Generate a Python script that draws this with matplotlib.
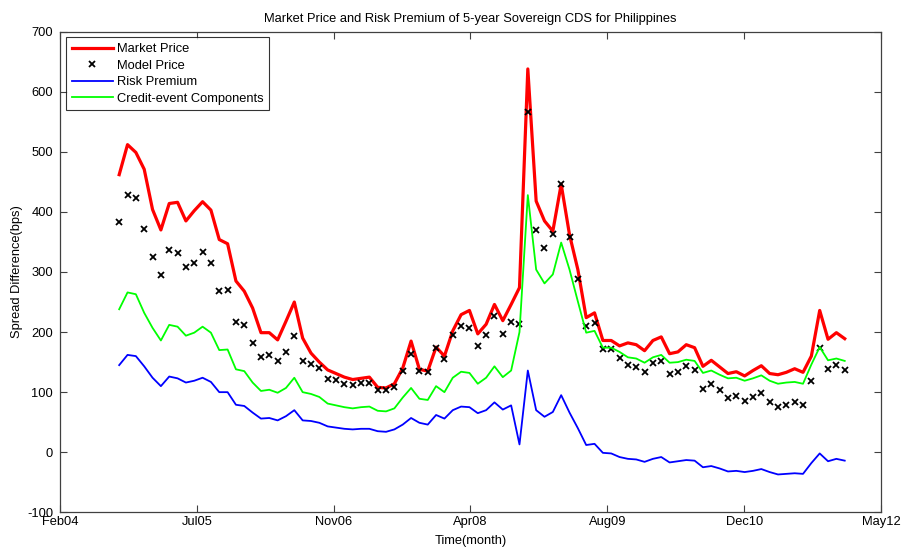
import numpy as np
import matplotlib
matplotlib.use("Agg")
import matplotlib.pyplot as plt

plt.rcParams['font.family'] = ['Liberation Sans', 'DejaVu Sans']
plt.rcParams['axes.unicode_minus'] = False

# monthly observations, 88 points
market_price = [462, 512, 499, 471, 404, 370, 414, 416, 385, 402, 417, 403, 354, 347, 285, 268,
                240, 199, 199, 187, 218, 250, 190, 165, 150, 137, 131, 125, 121, 123, 125, 108,
                107, 114, 140, 185, 138, 135, 175, 160, 202, 229, 236, 197, 213, 246, 219, 246,
                274, 638, 418, 385, 368, 446, 362, 304, 224, 232, 186, 186, 177, 182, 179, 169,
                186, 192, 164, 167, 179, 174, 143, 153, 142, 131, 134, 127, 136, 144, 131, 129,
                133, 139, 133, 160, 236, 188, 199, 189]
model_price = [383, 428, 423, 372, 325, 295, 337, 332, 308, 315, 334, 315, 269, 270, 216, 212,
               181, 158, 162, 152, 167, 194, 152, 147, 140, 122, 120, 113, 112, 115, 116, 103,
               103, 108, 135, 164, 135, 133, 173, 156, 195, 210, 207, 177, 195, 227, 197, 217,
               213, 567, 370, 340, 363, 446, 358, 288, 210, 215, 172, 172, 157, 146, 142, 133,
               149, 152, 131, 134, 143, 137, 106, 114, 103, 91, 94, 86, 92, 98, 84, 76,
               79, 83, 78, 118, 173, 138, 145, 137]
risk_premium = [145, 162, 160, 143, 124, 110, 126, 123, 116, 119, 124, 117, 100, 100, 79, 77,
                66, 56, 57, 53, 60, 70, 53, 52, 49, 43, 41, 39, 38, 39, 39, 35,
                34, 38, 46, 57, 49, 46, 62, 56, 70, 76, 75, 65, 70, 83, 71, 78,
                13, 136, 70, 59, 67, 95, 66, 40, 12, 14, -1, -2, -8, -11, -12, -16,
                -11, -8, -17, -15, -13, -14, -25, -23, -27, -32, -31, -33, -31, -28, -33, -37,
                -36, -35, -36, -18, -2, -15, -11, -14]
credit_event = [238, 266, 263, 232, 207, 186, 212, 209, 194, 199, 209, 199, 170, 171, 138, 135,
                116, 102, 104, 99, 107, 124, 100, 97, 92, 81, 78, 75, 73, 75, 76, 69,
                68, 73, 91, 107, 89, 87, 110, 100, 124, 134, 132, 114, 124, 143, 125, 136,
                200, 428, 304, 281, 296, 349, 304, 251, 199, 202, 174, 174, 167, 158, 156, 149,
                158, 162, 149, 150, 154, 152, 132, 136, 129, 123, 124, 119, 123, 128, 119, 114,
                116, 117, 114, 146, 175, 153, 156, 152]
tick_labels = ['Feb04', 'Jul05', 'Nov06', 'Apr08', 'Aug09', 'Dec10', 'May12']

months = np.arange(len(market_price))
fs = 9.3

fig = plt.figure(figsize=(9.06, 5.52), dpi=100)
ax = fig.add_axes([0.0662, 0.0719, 0.9062, 0.8707])

ax.plot(months, market_price, color='#ff0000', lw=2.3, label='Market Price')
ax.plot(months, model_price, 'x', color='black', ms=5, mew=1.3, label='Model Price')
ax.plot(months, risk_premium, color='#0000ff', lw=1.3, label='Risk Premium')
ax.plot(months, credit_event, color='#00ff00', lw=1.3, label='Credit-event Components')

xlim = (-7.1, 91.35)
ax.set_xlim(*xlim)
ax.set_ylim(-100, 700)
ax.set_xticks(np.linspace(xlim[0], xlim[1], len(tick_labels)))
ax.set_xticklabels(tick_labels)
ax.set_yticks(np.arange(-100, 701, 100))

for s in ax.spines.values():
    s.set_color('#404040')
    s.set_linewidth(0.9)
ax.tick_params(direction='in', top=True, right=True, length=5, width=0.8,
               color='#404040', labelsize=fs)
ax.tick_params(axis='x', pad=2.5)
ax.tick_params(axis='y', pad=5)

ax.set_title('Market Price and Risk Premium of 5-year Sovereign CDS for Philippines',
             fontsize=fs, pad=7)
ax.set_xlabel('Time(month)', fontsize=fs, labelpad=5)
ax.set_ylabel('Spread Difference(bps)', fontsize=fs, labelpad=2.5)

leg = ax.legend(loc='upper left', fontsize=fs, frameon=True, fancybox=False,
                borderaxespad=0.45, handlelength=3.2, handletextpad=0.3,
                labelspacing=0.34, borderpad=0.45)
leg.get_frame().set_edgecolor('black')
leg.get_frame().set_linewidth(0.8)

fig.savefig('out.png', dpi=100)
